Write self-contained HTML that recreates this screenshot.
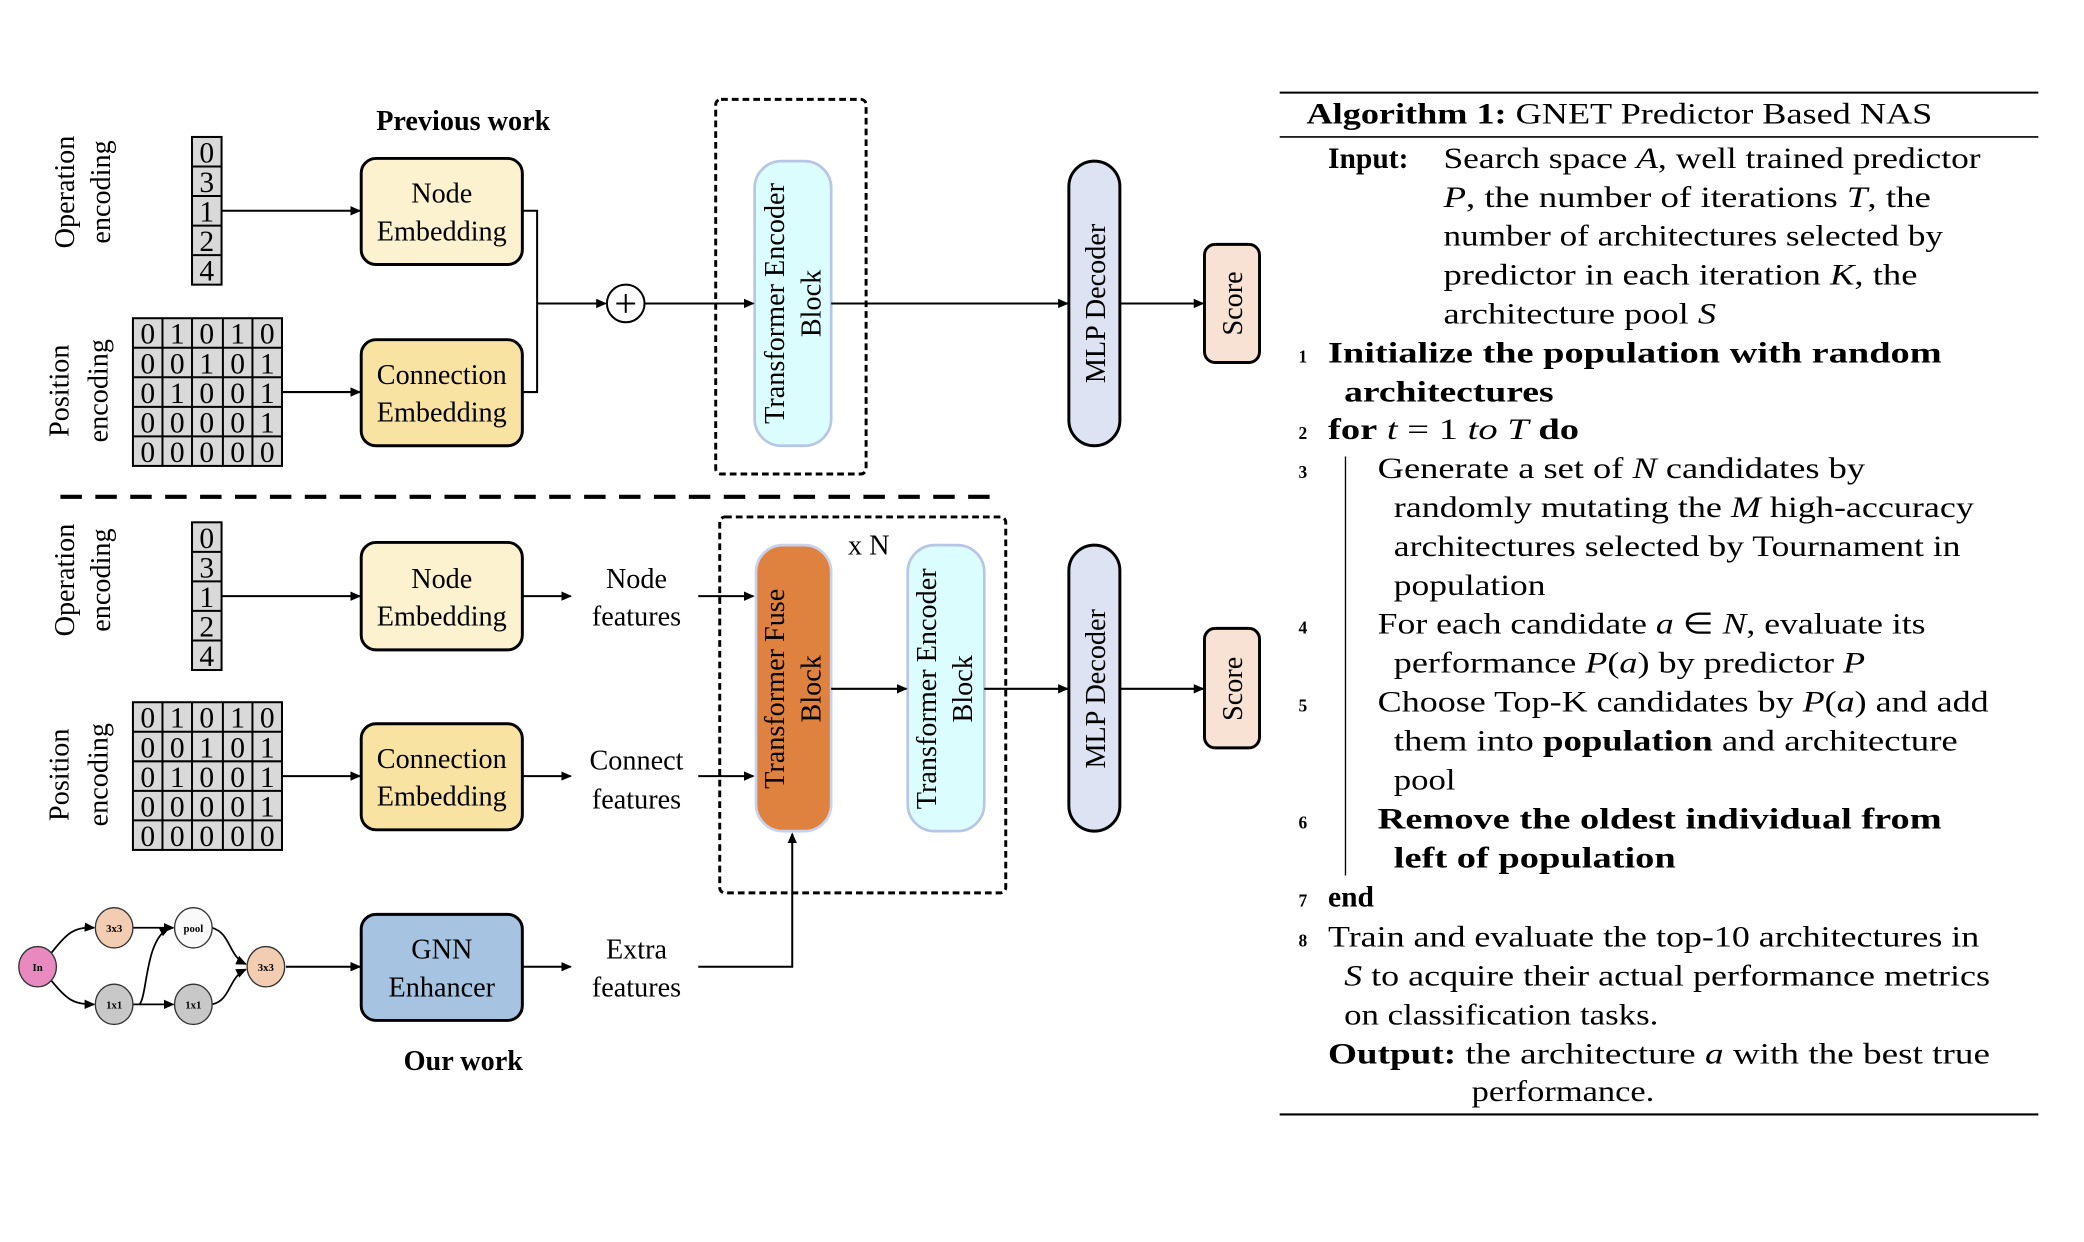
<!DOCTYPE html>
<html><head><meta charset="utf-8"><style>
html,body{margin:0;padding:0;background:#fff;}
svg{display:block;}
svg text{font-family:"Liberation Serif","Times New Roman",serif;fill:#000;}
</style></head><body>
<svg width="2084" height="1242" viewBox="0 0 1552 925" preserveAspectRatio="none" xmlns="http://www.w3.org/2000/svg" font-family="Liberation Serif, serif">
<defs>
<marker id="a" markerWidth="8" markerHeight="8" refX="7" refY="4" orient="auto" markerUnits="userSpaceOnUse"><path d="M0,0.5 L8,4 L0,7.5 Z" fill="#000"/></marker>
</defs>
<rect width="1552" height="925" fill="#fff"/>
<g font-size="21">
<text x="345" y="97" text-anchor="middle" font-weight="bold">Previous work</text>
<text x="345" y="797" text-anchor="middle" font-weight="bold">Our work</text>
</g>
<g font-size="21" text-anchor="middle">
<text transform="translate(55,143) rotate(-90)">Operation</text>
<text transform="translate(82,143) rotate(-90)">encoding</text>
<text transform="translate(51,291) rotate(-90)">Position</text>
<text transform="translate(80,291) rotate(-90)">encoding</text>
<text transform="translate(55,432) rotate(-90)">Operation</text>
<text transform="translate(82,432) rotate(-90)">encoding</text>
<text transform="translate(51,577) rotate(-90)">Position</text>
<text transform="translate(80,577) rotate(-90)">encoding</text>
</g>
<g stroke="#000" stroke-width="1.5">
<rect x="143" y="102" width="22" height="110" fill="#d9d9d9"/>
<line x1="143" y1="124" x2="165" y2="124"/><line x1="143" y1="146" x2="165" y2="146"/><line x1="143" y1="168" x2="165" y2="168"/><line x1="143" y1="190" x2="165" y2="190"/>
<rect x="143" y="389" width="22" height="110" fill="#d9d9d9"/>
<line x1="143" y1="411" x2="165" y2="411"/><line x1="143" y1="433" x2="165" y2="433"/><line x1="143" y1="455" x2="165" y2="455"/><line x1="143" y1="477" x2="165" y2="477"/>
</g>
<g font-size="22" text-anchor="middle">
<text x="154" y="121">0</text><text x="154" y="143">3</text><text x="154" y="165">1</text><text x="154" y="187">2</text><text x="154" y="209">4</text>
<text x="154" y="408">0</text><text x="154" y="430">3</text><text x="154" y="452">1</text><text x="154" y="474">2</text><text x="154" y="496">4</text>
</g>
<g stroke="#000" stroke-width="1.5" fill="none">
<rect x="99" y="237" width="111" height="110" fill="#d9d9d9"/>
<path d="M121,237V347M143,237V347M166,237V347M188,237V347M99,259H210M99,281H210M99,303H210M99,325H210"/>
<rect x="99" y="523" width="111" height="110" fill="#d9d9d9"/>
<path d="M121,523V633M143,523V633M166,523V633M188,523V633M99,545H210M99,567H210M99,589H210M99,611H210"/>
</g>
<g font-size="22" text-anchor="middle">
<text y="256"><tspan x="110">0</tspan><tspan x="132">1</tspan><tspan x="154">0</tspan><tspan x="177">1</tspan><tspan x="199">0</tspan></text>
<text y="278"><tspan x="110">0</tspan><tspan x="132">0</tspan><tspan x="154">1</tspan><tspan x="177">0</tspan><tspan x="199">1</tspan></text>
<text y="300"><tspan x="110">0</tspan><tspan x="132">1</tspan><tspan x="154">0</tspan><tspan x="177">0</tspan><tspan x="199">1</tspan></text>
<text y="322"><tspan x="110">0</tspan><tspan x="132">0</tspan><tspan x="154">0</tspan><tspan x="177">0</tspan><tspan x="199">1</tspan></text>
<text y="344"><tspan x="110">0</tspan><tspan x="132">0</tspan><tspan x="154">0</tspan><tspan x="177">0</tspan><tspan x="199">0</tspan></text>
<text y="542"><tspan x="110">0</tspan><tspan x="132">1</tspan><tspan x="154">0</tspan><tspan x="177">1</tspan><tspan x="199">0</tspan></text>
<text y="564"><tspan x="110">0</tspan><tspan x="132">0</tspan><tspan x="154">1</tspan><tspan x="177">0</tspan><tspan x="199">1</tspan></text>
<text y="586"><tspan x="110">0</tspan><tspan x="132">1</tspan><tspan x="154">0</tspan><tspan x="177">0</tspan><tspan x="199">1</tspan></text>
<text y="608"><tspan x="110">0</tspan><tspan x="132">0</tspan><tspan x="154">0</tspan><tspan x="177">0</tspan><tspan x="199">1</tspan></text>
<text y="630"><tspan x="110">0</tspan><tspan x="132">0</tspan><tspan x="154">0</tspan><tspan x="177">0</tspan><tspan x="199">0</tspan></text>
</g>
<g stroke="#000" stroke-width="2.2">
<rect x="269" y="118" width="120" height="79" rx="11" fill="#fdf2cf"/>
<rect x="269" y="253" width="120" height="79" rx="11" fill="#f9e3a3"/>
<rect x="269" y="404" width="120" height="80" rx="11" fill="#fdf2cf"/>
<rect x="269" y="539" width="120" height="79" rx="11" fill="#f9e3a3"/>
<rect x="269" y="681" width="120" height="79" rx="11" fill="#a6c3e2"/>
<rect x="796" y="120" width="38" height="212" rx="19" fill="#dde3f2"/>
<rect x="796" y="406" width="38" height="213" rx="19" fill="#dde3f2"/>
<rect x="897" y="182" width="41" height="88" rx="8" fill="#f7e2d3"/>
<rect x="897" y="468" width="41" height="89" rx="8" fill="#f7e2d3"/>
</g>
<g stroke-width="2">
<rect x="562" y="120" width="57" height="212" rx="20" fill="#dcfdfe" stroke="#b8c6e6"/>
<rect x="676" y="406" width="57" height="213" rx="20" fill="#dcfdfe" stroke="#b8c6e6"/>
<rect x="563" y="406" width="56" height="213" rx="20" fill="#df8240" stroke="#c9d2ea"/>
</g>
<g font-size="21" text-anchor="middle">
<text x="329" y="151">Node</text><text x="329" y="179">Embedding</text>
<text x="329" y="286">Connection</text><text x="329" y="314">Embedding</text>
<text x="329" y="438">Node</text><text x="329" y="466">Embedding</text>
<text x="329" y="572">Connection</text><text x="329" y="600">Embedding</text>
<text x="329" y="714">GNN</text><text x="329" y="742">Enhancer</text>
<text x="474" y="438">Node</text><text x="474" y="466">features</text>
<text x="474" y="573">Connect</text><text x="474" y="602">features</text>
<text x="474" y="714">Extra</text><text x="474" y="742">features</text>
<text x="647" y="413">x N</text>
<text transform="translate(584,226) rotate(-90)">Transformer Encoder</text>
<text transform="translate(611,226) rotate(-90)">Block</text>
<text transform="translate(584,513) rotate(-90)">Transformer Fuse</text>
<text transform="translate(611,513) rotate(-90)">Block</text>
<text transform="translate(697,513) rotate(-90)">Transformer Encoder</text>
<text transform="translate(724,513) rotate(-90)">Block</text>
<text transform="translate(823,226) rotate(-90)">MLP Decoder</text>
<text transform="translate(823,513) rotate(-90)">MLP Decoder</text>
<text transform="translate(925,226) rotate(-90)">Score</text>
<text transform="translate(925,513) rotate(-90)">Score</text>
</g>
<g fill="none" stroke="#000" stroke-width="2.2" stroke-dasharray="5,3">
<rect x="533" y="74" width="112" height="279" rx="4"/>
<rect x="536" y="385" width="213" height="280" rx="4"/>
</g>
<line x1="45" y1="370" x2="745" y2="370" stroke="#000" stroke-width="3" stroke-dasharray="16,10"/>
<g stroke="#000" stroke-width="1.5" fill="none" marker-end="url(#a)">
<line x1="165" y1="157" x2="268" y2="157"/>
<line x1="210" y1="292" x2="268" y2="292"/>
<line x1="400" y1="226" x2="451" y2="226"/>
<line x1="480" y1="226" x2="561" y2="226"/>
<line x1="619" y1="226" x2="795" y2="226"/>
<line x1="834" y1="226" x2="896" y2="226"/>
<line x1="165" y1="444" x2="268" y2="444"/>
<line x1="389" y1="444" x2="425" y2="444"/>
<line x1="520" y1="444" x2="561" y2="444"/>
<line x1="210" y1="578" x2="268" y2="578"/>
<line x1="389" y1="578" x2="425" y2="578"/>
<line x1="520" y1="578" x2="561" y2="578"/>
<line x1="619" y1="513" x2="675" y2="513"/>
<line x1="733" y1="513" x2="795" y2="513"/>
<line x1="834" y1="513" x2="896" y2="513"/>
<line x1="213" y1="720" x2="268" y2="720"/>
<line x1="389" y1="720" x2="425" y2="720"/>
<path d="M520,720H590V621"/>
</g>
<path d="M389,157H400V292H389" stroke="#000" stroke-width="1.5" fill="none"/>
<circle cx="466" cy="226" r="14" fill="#fff" stroke="#000" stroke-width="1.5"/>
<path d="M459,226H473M466,219V233" stroke="#000" stroke-width="1.5"/>
<g stroke="#000" stroke-width="1.3" fill="none" marker-end="url(#a)">
<path d="M38,710 C50,695 55,690 70,691"/>
<path d="M38,730 C50,745 55,748 70,748"/>
<line x1="99" y1="691" x2="129" y2="691"/>
<line x1="99" y1="748" x2="129" y2="748"/>
<path d="M104,748 C110,740 108,700 126,691"/>
<path d="M158,691 C172,695 170,712 183,718"/>
<path d="M158,748 C172,745 170,728 183,722"/>
</g>
<g stroke="#333" stroke-width="1">
<ellipse cx="28" cy="720" rx="14" ry="15" fill="#e88ac0"/>
<ellipse cx="85" cy="691" rx="14" ry="15" fill="#f2cdb2"/>
<ellipse cx="144" cy="691" rx="14" ry="15" fill="#fafafa"/>
<ellipse cx="85" cy="748" rx="14" ry="15" fill="#c8c8c8"/>
<ellipse cx="144" cy="748" rx="14" ry="15" fill="#c8c8c8"/>
<ellipse cx="198" cy="720" rx="14" ry="15" fill="#f2cdb2"/>
</g>
<g font-size="8" text-anchor="middle" font-weight="bold">
<text x="28" y="723">In</text><text x="85" y="694">3x3</text><text x="144" y="694">pool</text>
<text x="85" y="751">1x1</text><text x="144" y="751">1x1</text><text x="198" y="723">3x3</text>
</g>
<g stroke="#000">
<line x1="953" y1="69" x2="1518" y2="69" stroke-width="1.5"/>
<line x1="953" y1="102" x2="1518" y2="102" stroke-width="1.2"/>
<line x1="953" y1="830" x2="1518" y2="830" stroke-width="1.5"/>
<line x1="1002" y1="340" x2="1002" y2="652" stroke-width="1"/>
</g>
<g font-size="22">
<text x="973" y="92" textLength="466" lengthAdjust="spacingAndGlyphs"><tspan font-weight="bold">Algorithm 1:</tspan> GNET Predictor Based NAS</text>
<text x="989" y="125" font-weight="bold">Input:</text>
<text x="1075" y="125" textLength="400" lengthAdjust="spacingAndGlyphs">Search space <tspan font-style="italic">A</tspan>, well trained predictor</text>
<text x="1075" y="154" textLength="363" lengthAdjust="spacingAndGlyphs"><tspan font-style="italic">P</tspan>, the number of iterations <tspan font-style="italic">T</tspan>, the</text>
<text x="1075" y="183" textLength="372" lengthAdjust="spacingAndGlyphs">number of architectures selected by</text>
<text x="1075" y="212" textLength="353" lengthAdjust="spacingAndGlyphs">predictor in each iteration <tspan font-style="italic">K</tspan>, the</text>
<text x="1075" y="241" textLength="203" lengthAdjust="spacingAndGlyphs">architecture pool <tspan font-style="italic">S</tspan></text>
<text x="989" y="270" font-weight="bold" textLength="457" lengthAdjust="spacingAndGlyphs">Initialize the population with random</text>
<text x="1001" y="299" font-weight="bold" textLength="156" lengthAdjust="spacingAndGlyphs">architectures</text>
<text x="989" y="327" textLength="187" lengthAdjust="spacingAndGlyphs"><tspan font-weight="bold">for</tspan> <tspan font-style="italic">t</tspan> = 1 <tspan font-style="italic">to T</tspan> <tspan font-weight="bold">do</tspan></text>
<text x="1026" y="356" textLength="363" lengthAdjust="spacingAndGlyphs">Generate a set of <tspan font-style="italic">N</tspan> candidates by</text>
<text x="1038" y="385" textLength="432" lengthAdjust="spacingAndGlyphs">randomly mutating the <tspan font-style="italic">M</tspan> high-accuracy</text>
<text x="1038" y="414" textLength="422" lengthAdjust="spacingAndGlyphs">architectures selected by Tournament in</text>
<text x="1038" y="443" textLength="113" lengthAdjust="spacingAndGlyphs">population</text>
<text x="1026" y="472" textLength="408" lengthAdjust="spacingAndGlyphs">For each candidate <tspan font-style="italic">a</tspan> ∈ <tspan font-style="italic">N</tspan>, evaluate its</text>
<text x="1038" y="501" textLength="351" lengthAdjust="spacingAndGlyphs">performance <tspan font-style="italic">P</tspan>(<tspan font-style="italic">a</tspan>) by predictor <tspan font-style="italic">P</tspan></text>
<text x="1026" y="530" textLength="455" lengthAdjust="spacingAndGlyphs">Choose Top-K candidates by <tspan font-style="italic">P</tspan>(<tspan font-style="italic">a</tspan>) and add</text>
<text x="1038" y="559" textLength="420" lengthAdjust="spacingAndGlyphs">them into <tspan font-weight="bold">population</tspan> and architecture</text>
<text x="1038" y="588" textLength="46" lengthAdjust="spacingAndGlyphs">pool</text>
<text x="1026" y="617" font-weight="bold" textLength="420" lengthAdjust="spacingAndGlyphs">Remove the oldest individual from</text>
<text x="1038" y="646" font-weight="bold" textLength="210" lengthAdjust="spacingAndGlyphs">left of population</text>
<text x="989" y="675" font-weight="bold">end</text>
<text x="989" y="705" textLength="485" lengthAdjust="spacingAndGlyphs">Train and evaluate the top-10 architectures in</text>
<text x="1001" y="734" textLength="481" lengthAdjust="spacingAndGlyphs"><tspan font-style="italic">S</tspan> to acquire their actual performance metrics</text>
<text x="1001" y="763" textLength="234" lengthAdjust="spacingAndGlyphs">on classification tasks.</text>
<text x="989" y="792" textLength="493" lengthAdjust="spacingAndGlyphs"><tspan font-weight="bold">Output:</tspan> the architecture <tspan font-style="italic">a</tspan> with the best true</text>
<text x="1096" y="820" textLength="136" lengthAdjust="spacingAndGlyphs">performance.</text>
</g>
<g font-size="13" font-weight="bold">
<text x="967" y="270">1</text><text x="967" y="327">2</text><text x="967" y="356">3</text><text x="967" y="472">4</text>
<text x="967" y="530">5</text><text x="967" y="617">6</text><text x="967" y="675">7</text><text x="967" y="705">8</text>
</g>
</svg>
</body></html>
